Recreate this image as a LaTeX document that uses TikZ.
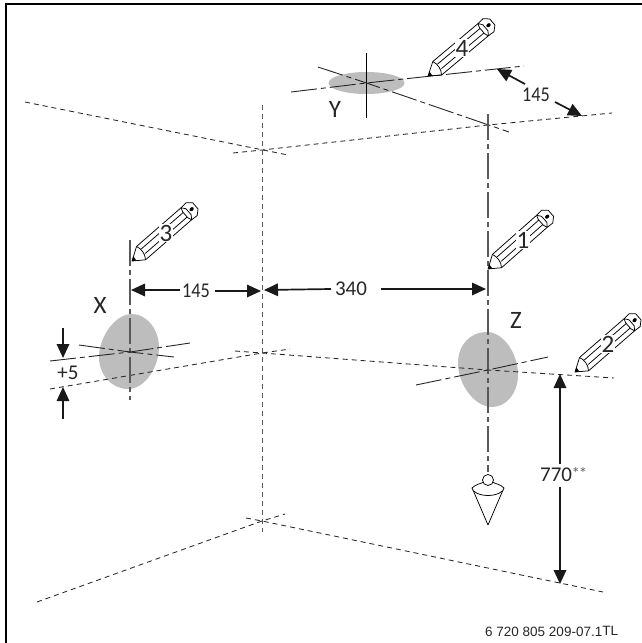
\documentclass[tikz,border=0pt]{standalone}
\usepackage{fontspec}
\setmainfont[FakeStretch=0.87]{Carlito}
\newfontfamily\plainfont{Carlito}
\newfontfamily\footfont{Liberation Sans}
\usetikzlibrary{arrows.meta}
\tikzset{
  x=1pt,y=1pt,
  dimarrow/.style={line width=1.7pt,draw=black!90,-{Triangle[length=14pt,width=12.5pt]}},
  walldash/.style={line width=.85pt,draw=black!85,dash pattern=on 5pt off 4pt},
  vdash/.style={line width=1pt,draw=black!65,dash pattern=on 5pt off 4pt},
  centerline/.style={line width=.9pt,draw=black!85,dash pattern=on 26pt off 4pt on 5pt off 4pt},
  plumbline/.style={line width=1.05pt,draw=black!65,dash pattern=on 26pt off 4pt on 5pt off 4pt},
  stain/.style={fill=black!26},
  lbl/.style={font=\fontsize{21}{22}\selectfont,text=black!85,inner sep=1pt},
  widelbl/.style={font=\plainfont\fontsize{21}{22}\selectfont,text=black!85,inner sep=1pt},
  letter/.style={font=\plainfont\fontsize{25}{26}\selectfont,text=black!85,inner sep=1pt},
  digit/.style={font=\plainfont\fontsize{25}{26}\selectfont,text=black!85,fill=white,inner sep=.6pt},
  foot/.style={font=\footfont\fontsize{13.5}{15}\selectfont,text=black!85,inner sep=0pt},
  penline/.style={line width=.75pt,draw=black},
  bobline/.style={line width=.75pt,draw=black,fill=white},
  pencil/.pic={
    \draw[penline,line join=round] (13,8) -- (0,0) -- (11,-8);
    \draw[penline] (13,8) .. controls (15,3) and (15,-3) .. (11,-8);
    \fill (0,0) -- (4,2.4) -- (3.6,-2.6) -- cycle;
    \draw[penline] (13,8) -- (72,8);
    \draw[penline] (11,-8) -- (72,-8);
    \draw[penline] (15,3) -- (71,3);
    \draw[penline] (15,-3) -- (71,-3);
    \draw[penline,line join=round,fill=white] (72,8) -- (79,8.5) -- (84,4) -- (84,-4) -- (79,-8.5) -- (72,-8) -- (70.5,-4) -- (70.5,4) -- cycle;
    \draw[penline] (72,8) -- (75,4) -- (75,-4) -- (72,-8);
    \fill (79,0) ellipse [x radius=2.4pt,y radius=1.8pt];
  }
}
\begin{document}
\begin{tikzpicture}
\useasboundingbox (0,-643) rectangle (642,0);
% frame: left and top edges only
\path[use as bounding box] (0,-643) rectangle (642,0);
\draw[line width=2.2pt,black] (6,-650) -- (6,-4) -- (650,-4);
\path[use as bounding box] (0,-643) rectangle (642,0);
% key points
\coordinate (ycen) at (366.5,-83);
\coordinate (ceilc) at (262,-150);
\coordinate (ceilr) at (488,-125);
\coordinate (xcen) at (130,-352);
\coordinate (zcen) at (488,-370);
\coordinate (midc) at (262,-353);
\coordinate (floorc) at (262,-521);
% stains
\fill[stain] (ycen) ellipse [x radius=38pt,y radius=11pt];
\fill[stain] (132,-314) .. controls (147,-314) and (159,-330) .. (159,-347) .. controls (159,-367) and (145,-389) .. (128,-389) .. controls (112,-389) and (99,-375) .. (99,-357) .. controls (99,-337) and (115,-314) .. (132,-314) -- cycle;
\fill[stain] (487,-332) .. controls (503,-332) and (518,-353) .. (518,-375) .. controls (518,-392) and (507,-407) .. (492,-407) .. controls (475,-407) and (458,-385) .. (458,-363) .. controls (458,-345) and (470,-332) .. (487,-332) -- cycle;
% walls
\draw[walldash] (25,-102) -- (288,-155);
\draw[walldash] (233,-153) -- (ceilc) -- (ceilr) -- (612,-113);
\draw[vdash] (262,-105) -- (262,-532);
\draw[walldash] (50,-389) -- (midc) -- (290,-349);
\draw[walldash] (235,-351) -- (midc) -- (zcen) -- (614,-378);
\draw[walldash] (37,-602) -- (floorc) -- (285,-514);
\draw[walldash] (246,-518) -- (floorc) -- (603,-592);
% centre lines at Y
\draw[line width=.9pt,black] (366.5,-53) -- (366.5,-118);
\draw[centerline] (291,-92) -- (ycen) -- (524,-66);
\draw[centerline] (318,-67) -- (ycen) -- (509,-132);
% centre lines at X
\draw[plumbline] (130,-240) -- (130,-400);
\draw[centerline] (79,-345) -- (xcen) -- (174,-357);
\draw[centerline] (50,-361) -- (xcen) -- (190,-343);
% centre lines at Z
\draw[plumbline] (488,-114) -- (488,-472);
\draw[centerline] (416,-385) -- (zcen) -- (548,-357);
% plumb bob
\coordinate (bead) at (488,-480);
\draw[bobline,line join=round] (473,-490) -- (488,-525) -- (503,-490);
\draw[bobline] (472,-488) .. controls (476,-484) and (480,-484) .. (484,-482) -- (492,-482) .. controls (496,-484) and (500,-484) .. (504,-488) .. controls (504,-492) and (496,-495.5) .. (488,-495.5) .. controls (480,-495.5) and (472,-492) .. (472,-488) -- cycle;
\draw[bobline] (bead) circle [radius=5.5pt];
% pencils
\pic at (428,-76) [rotate=40] {pencil};
\pic at (488,-269) [rotate=41.5] {pencil};
\pic at (575,-372) [rotate=41] {pencil};
\pic at (132,-261) [rotate=41] {pencil};
\node[digit] (n4) at (462,-48) {4};
\node[digit] (n1) at (523,-240) {1};
\node[digit] (n2) at (608,-344) {2};
\node[digit] (n3) at (166,-233) {3};
% dimension labels
\node[lbl] (dA) at (196,-291) {145};
\node[widelbl] (dB) at (351,-289) {340};
\node[lbl] (dC) at (536,-95) {145};
\node[widelbl] (dD) at (68,-373) {+5};
\node[widelbl,anchor=west] (dE) at (539,-475) {770\kern-.5pt\raisebox{2pt}{\fontsize{17}{17}\selectfont\color{black!60}*\kern-1.2pt*}};
% dimension arrows
\coordinate (a1) at (131,-290);
\coordinate (a2) at (261,-291);
\coordinate (b1) at (264,-290);
\coordinate (b2) at (486,-289);
\coordinate (c1) at (497,-69);
\coordinate (c2) at (582,-116);
\coordinate (d1) at (63,-358);
\coordinate (d2) at (63,-387);
\coordinate (e1) at (560,-374);
\coordinate (e2) at (560,-584);
\draw[dimarrow] (180,-290) -- (a1);
\draw[dimarrow] (215,-291) -- (a2);
\draw[dimarrow] (331,-289) -- (b1);
\draw[dimarrow] (381,-289) -- (b2);
\draw[dimarrow] (525,-84) -- (c1);
\draw[dimarrow] (555,-102) -- (c2);
\draw[dimarrow] (63,-328) -- (d1);
\draw[dimarrow] (63,-419) -- (d2);
\draw[dimarrow] (560,-464) -- (e1);
\draw[dimarrow] (560,-487) -- (e2);
% letters
\node[letter] (X) at (100,-305) {X};
\node[letter] (Y) at (335,-109) {Y};
\node[letter] (Z) at (516,-320) {Z};
% footer
\node[foot,anchor=base west] (code) at (485,-636) {6 720 805 209-07.1\raisebox{1pt}{TL}};
\end{tikzpicture}
\end{document}
